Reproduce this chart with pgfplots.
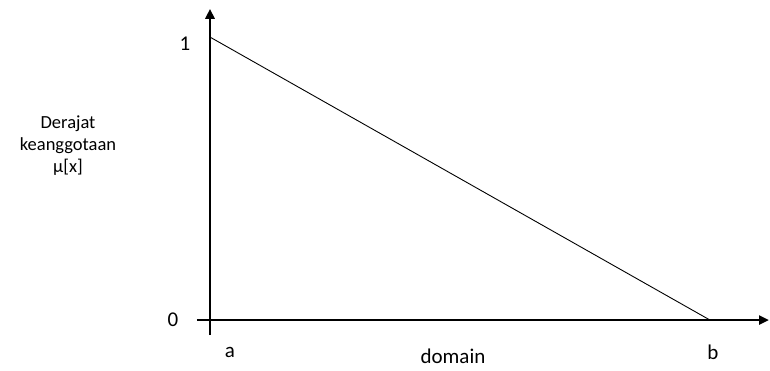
\documentclass[border=0pt]{standalone}
\usepackage{pgfplots}
\pgfplotsset{compat=1.18}
\usepackage{fontspec}
\setmainfont{Carlito}
\usetikzlibrary{arrows.meta}
\begin{document}
\begin{tikzpicture}
\begin{axis}[
  scale only axis, width=500pt, height=283pt,
  xmin=0, xmax=1, ymin=0, ymax=1,
  axis lines=none, clip=false,
]
\path[use as bounding box] (axis cs:-0.42,-0.177) rectangle (axis cs:1.12,1.131);
\draw[line width=2.6pt, -{Triangle[length=10pt,width=9pt]}] (axis cs:-0.026,0) -- (axis cs:1.118,0);
\draw[line width=2.6pt, -{Triangle[length=10pt,width=9pt]}] (axis cs:0,-0.053) -- (axis cs:0,1.10);
\addplot[black, line width=0.9pt] coordinates {(0,1) (1,0)};
\node[font=\fontsize{21}{25}\selectfont] at (axis cs:-0.074,0) {0};
\node[font=\fontsize{21}{25}\selectfont] at (axis cs:-0.05,0.975) {1};
\node[font=\fontsize{21}{25}\selectfont] at (axis cs:0.04,-0.115) {a};
\node[font=\fontsize{21}{25}\selectfont] at (axis cs:1.006,-0.115) {b};
\node[font=\fontsize{21}{25}\selectfont, inner sep=0pt] at (axis cs:0.486,-0.128) {domain};
\node[font=\fontsize{18.5}{22}\selectfont, align=center] at (axis cs:-0.284,0.618) {Derajat\\keanggotaan\\μ[x]};
\end{axis}
\end{tikzpicture}
\end{document}
